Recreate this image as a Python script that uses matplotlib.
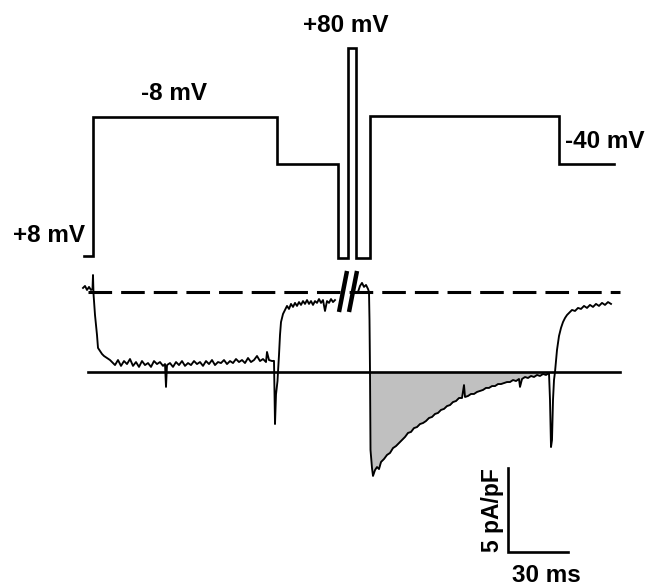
"""
Voltage-clamp protocol with the evoked current trace (schematic figure).
"""

import matplotlib
matplotlib.use("Agg")
import matplotlib.pyplot as plt

plt.rcParams['font.family'] = ['Liberation Sans', 'DejaVu Sans']
plt.rcParams['lines.scale_dashes'] = False

# ---- voltage protocol (schematic step heights, not to scale) ----
step_times_ms = [0, 4.5, 96.5, 127, 131.75, 136, 142.75, 237.5, 265]
step_levels = [2, 141, 94, 0, 210, 0, 142, 94]
protocol_labels = ['+8 mV', '-8 mV', '+80 mV', '-40 mV']

# ---- current trace, before the +80 mV pulse (ms, pA/pF) ----
t_pre = [-0.5, 0.5, 1.5, 2.5, 3.5, 4.25, 4.5, 4.75, 5.5, 6.5, 7.0, 8.0, 9.0, 10.0,
         11.5, 13.0, 14, 15.5, 17, 18.5, 20, 21.5, 23, 24.5, 26, 27.5, 29, 30.5,
         32, 33.5, 35, 36.5, 38, 39.5, 40.5, 41, 41.5, 43, 44.5, 46, 47.5, 49,
         50.5, 52, 53.5, 55, 56.5, 58, 59.5, 61, 62.5, 64, 65.5, 67, 68.5, 70,
         71.5, 73, 74.5, 76, 77.5, 79, 80.5, 82, 83.5, 85, 86.5, 88, 89.5, 91,
         91.5, 92.5, 94, 95, 95.5, 96.0, 96.75, 97.0, 97.5, 98.0, 98.5, 99.5,
         100.5, 101.5, 102.5, 103.5, 104.5, 105.5, 106.5, 107.5, 108.5, 109.5,
         110.5, 111.5, 112.5, 113.5, 114.5, 115.5, 116.5, 117.5, 118.5, 119.5,
         120.5, 121.5, 122.5, 123.5, 124.5, 125.5]
i_pre = [0.24, 0.36, 0.12, 0.30, 0.12, 0.18, 1.01, -0.10, -1.37, -2.56, -3.33, -3.51,
         -3.69, -3.81, -3.93, -4.05, -4.17, -4.35, -4.05, -4.40, -4.11, -4.29, -3.99,
         -4.40, -4.17, -4.46, -4.11, -4.35, -4.23, -4.46, -4.11, -4.29, -4.17, -4.40,
         -4.29, -5.65, -4.35, -4.23, -4.46, -4.17, -4.35, -4.11, -4.40, -4.23, -4.35,
         -4.11, -4.29, -4.17, -4.40, -4.11, -4.29, -4.05, -4.35, -4.17, -4.23, -4.05,
         -4.29, -4.11, -4.23, -3.99, -4.17, -4.05, -4.23, -3.93, -4.17, -4.05, -3.81,
         -4.11, -3.99, -4.17, -3.57, -4.05, -4.11, -4.10, -7.86, -6.10, -5.30, -4.76,
         -3.75, -2.56, -1.79, -1.31, -1.07, -0.83, -1.01, -0.71, -0.89, -0.65, -0.83,
         -0.60, -0.77, -0.54, -0.71, -0.48, -0.71, -0.54, -0.77, -0.54, -0.65, -0.42,
         -0.65, -0.48, -1.13, -0.54, -0.65, -0.42, -0.60, -0.48]

# ---- current trace, after the +80 mV pulse (ms, pA/pF) ----
t_post = [137, 138, 139, 140, 141, 142, 142.5, 142.75, 143.0, 143.25, 144.0, 144.5,
          145.5, 146.5, 147.5, 148.5, 150, 151.5, 153, 154.5, 156, 157.5, 159, 160.5,
          162, 163.5, 165, 166.5, 168, 169.5, 171, 172.5, 174, 175.5, 177, 178.5,
          180, 181.5, 183, 184.5, 186, 187.5, 189, 190, 190.5, 192, 193.5, 195,
          196.5, 198, 199.5, 201, 202.5, 204, 205.5, 207, 208.5, 210, 211.5, 213,
          214.5, 216, 217.5, 218, 219, 220.5, 222, 223.5, 225, 226.5, 228, 229.5,
          231, 232.5, 233, 233.5, 234, 234.5, 235, 235.5, 236.5, 237.5, 238.5,
          239.5, 240.5, 241.5, 242.5, 244, 245.5, 247, 248.5, 250, 251.5, 253,
          254.5, 256, 257.5, 259, 260.5, 262, 263.5]
i_post = [0.0, 0.36, 0.54, 0.30, 0.42, 0.18, 0.0, -1.67, -4.76, -9.40, -10.48, -10.95,
          -10.60, -10.42, -10.54, -10.12, -9.94, -9.70, -9.58, -9.29, -9.17, -8.99,
          -8.81, -8.63, -8.39, -8.33, -8.10, -8.04, -7.86, -7.80, -7.68, -7.50, -7.44,
          -7.26, -7.20, -7.02, -6.96, -6.79, -6.73, -6.55, -6.49, -6.31, -6.31, -5.54,
          -6.25, -6.19, -6.07, -6.07, -5.95, -5.89, -5.83, -5.71, -5.71, -5.60, -5.60,
          -5.48, -5.48, -5.42, -5.36, -5.36, -5.24, -5.30, -5.18, -5.65, -5.18, -5.06,
          -5.12, -5.00, -5.06, -4.94, -5.00, -4.88, -4.94, -4.82, -6.43, -9.23, -8.81,
          -6.43, -5.24, -4.76, -3.45, -2.62, -2.14, -1.79, -1.55, -1.37, -1.25, -1.07,
          -1.13, -0.95, -1.01, -0.83, -0.95, -0.77, -0.89, -0.71, -0.83, -0.65, -0.77,
          -0.60, -0.71]

# reference levels of the current panel (pA/pF)
zero_current = 0.0
tail_reference = -4.76
ref_span_ms = [2, 268]

# scale bar
bar_origin = (212, -15.48)
bar_ms = 30
bar_current = 5

# ---- figure: both panels share the time axis ----
fig = plt.figure(figsize=(6.51, 5.88), dpi=100, facecolor='white')
ax_v = fig.add_axes((0, 0, 1, 1))
ax_i = fig.add_axes((0, 0, 1, 1))
for ax in (ax_v, ax_i):
    ax.set_xlim(-42, 283.5)
    ax.axis('off')
    ax.patch.set_alpha(0)
ax_v.set_ylim(-330, 258)
ax_i.set_ylim(-17.62, 17.38)

# voltage steps
ax_v.plot(step_times_ms, step_levels + [step_levels[-1]], drawstyle='steps-post',
          color='black', lw=1.9, solid_joinstyle='miter')

label_kw = dict(fontsize=17.5, fontweight='bold', ha='center', va='center')
ax_v.text(-17.5, 22, protocol_labels[0], **label_kw)
ax_v.text(45, 164, protocol_labels[1], **label_kw)
ax_v.text(131, 232, protocol_labels[2], **label_kw)
ax_v.text(260.5, 117, protocol_labels[3], **label_kw)

# reference lines
ax_i.plot(ref_span_ms, [zero_current, zero_current], color='black', lw=2.2,
          dashes=(17, 6.5))
ax_i.plot(ref_span_ms, [tail_reference, tail_reference], color='black', lw=1.9)

# shaded tail current area
in_tail = [(142.75 <= t <= 232.5) for t in t_post]
ax_i.fill_between(t_post, i_post, tail_reference, where=in_tail,
                  color='#c0c0c0', interpolate=True, lw=0, zorder=1)

# current trace (noisy recording, drawn a bit heavy)
ax_i.plot(t_pre, i_pre, color='black', lw=1.35, zorder=3)
ax_i.plot(t_post, i_post, color='black', lw=1.35, zorder=3)

# break marks across the +80 mV pulse
for t0 in (127.5, 132.5):
    ax_i.plot([t0, t0 + 4], [-1.19, 1.25], color='black', lw=3.2,
              solid_capstyle='butt', zorder=4)

# scale bar
bx, by = bar_origin
ax_i.plot([bx, bx, bx + bar_ms], [by + bar_current, by, by], color='black', lw=1.9,
          solid_joinstyle='miter')
ax_i.text(bx + bar_ms / 2 + 4, by - 1.37, f'{bar_ms} ms', **label_kw)
ax_i.text(bx - 7.5, by + bar_current / 2, f'{bar_current} pA/pF', rotation=90,
          fontsize=16.5, fontweight='bold', ha='center', va='center')

fig.savefig('out.png', dpi=100, facecolor='white')
